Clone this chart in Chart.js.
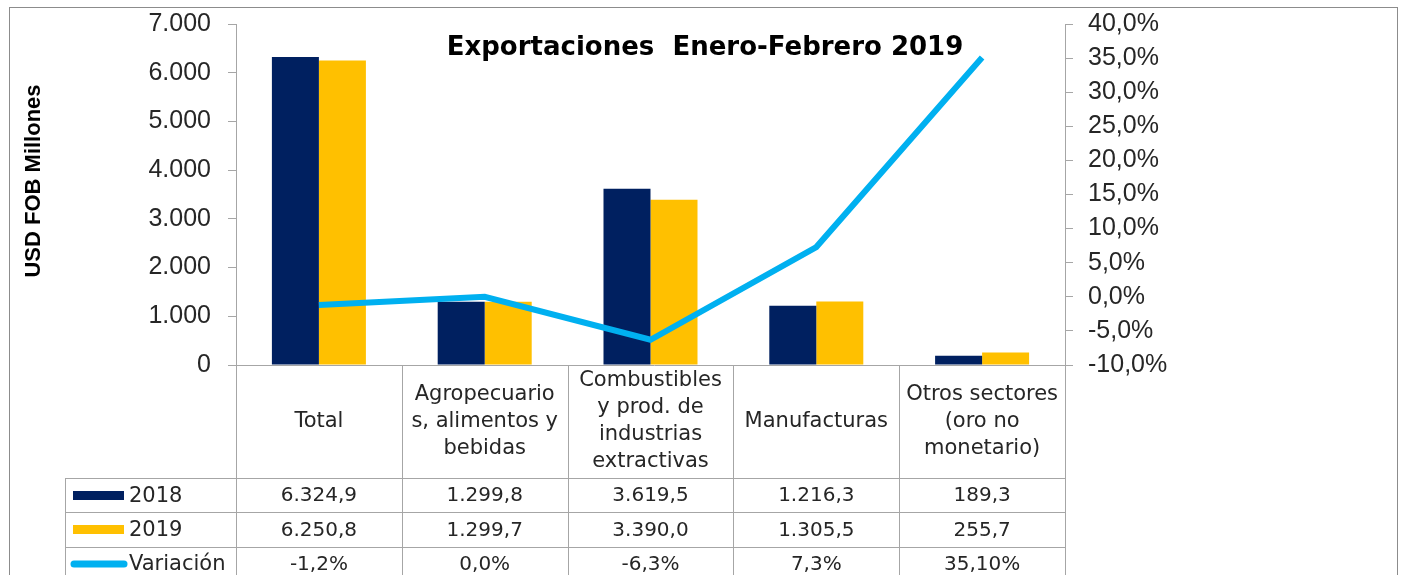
<!DOCTYPE html>
<html>
<head>
<meta charset="utf-8">
<script src="https://cdn.jsdelivr.net/npm/chart.js@4"></script>
<style>
  html, body { margin: 0; padding: 0; background: #fff; }
</style>
</head>
<body>
<canvas id="chart" width="1404" height="575"></canvas>
<script>
/* Data. */
const categories = [
  ["Total"],
  ["Agropecuario", "s, alimentos y", "bebidas"],
  ["Combustibles", "y prod. de", "industrias", "extractivas"],
  ["Manufacturas"],
  ["Otros sectores", "(oro no", "monetario)"]
]
const exports2018 = [6324.9, 1299.8, 3619.5, 1216.3, 189.3]
const exports2019 = [6250.8, 1299.7, 3390.0, 1305.5, 255.7]
const variation = [-1.2, 0.0, -6.3, 7.3, 35.1]
const variationLabels = ["-1,2%", "0,0%", "-6,3%", "7,3%", "35,10%"]
const seriesNames = ["2018", "2019", "Variación"]
const chartTitle = "Exportaciones  Enero-Febrero 2019"
const axisTitle = "USD FOB Millones"

const navy = "#002060"
const gold = "#FFC000"
const cyan = "#00B0F0"
const gridGrey = "#a6a6a6"
const textColor = "#262626"

/* Number with dot for thousands and comma for decimals. */
const formatNumber = (v, decimals) => {
  const parts = v.toFixed(decimals).split(".")
  parts[0] = parts[0].replace(/\B(?=(\d{3})+(?!\d))/g, ".")
  return parts.join(",")
}

/* Fix axis width and drop the label overflow padding so the plot area is exact. */
const fitAxis = width => scale => {
  scale.width = width
  scale.paddingTop = 0
  scale.paddingBottom = 0
}

/* Plugin that draws the frame, titles and the data table. */
const tablePlugin = {
  id: "tablePlugin",
  afterDraw(chart) {
    const ctx = chart.ctx
    const area = chart.chartArea
    const x = chart.scales.x
    const colWidth = (area.right - area.left) / categories.length
    const headerBottom = 478
    const rowHeight = 34.3
    const tableLeft = 65
    const bottom = 600

    ctx.save()

    /* Outer frame. */
    ctx.strokeStyle = "#8c8c8c"
    ctx.lineWidth = 1
    ctx.strokeRect(9.5, 7.5, 1388, 620)

    /* Title inside plot area. */
    ctx.fillStyle = "#000"
    ctx.font = "bold 26px 'DejaVu Sans'"
    ctx.textAlign = "center"
    ctx.textBaseline = "middle"
    ctx.fillText(chartTitle, 705, 48)

    /* Rotated y axis title. */
    ctx.save()
    ctx.translate(34, 181)
    ctx.rotate(-Math.PI / 2)
    ctx.font = "bold 22px 'Liberation Sans'"
    ctx.fillText(axisTitle, 0, 0)
    ctx.restore()

    /* Table lines. */
    ctx.strokeStyle = gridGrey
    ctx.lineWidth = 1
    ctx.beginPath()
    ctx.moveTo(area.left, Math.round(area.bottom) + 0.5)
    ctx.lineTo(area.right + 8, Math.round(area.bottom) + 0.5)
    for (let i = 0; i <= categories.length; i++) {
      const cx = Math.round(area.left + i * colWidth) + 0.5
      ctx.moveTo(cx, area.bottom)
      ctx.lineTo(cx, bottom)
    }
    ctx.moveTo(tableLeft + 0.5, headerBottom)
    ctx.lineTo(tableLeft + 0.5, bottom)
    for (let r = 0; r < 3; r++) {
      const ry = Math.round(headerBottom + r * rowHeight) + 0.5
      ctx.moveTo(tableLeft, ry)
      ctx.lineTo(area.right, ry)
    }
    ctx.stroke()

    /* Category header cells. */
    ctx.fillStyle = textColor
    ctx.font = "21px 'DejaVu Sans'"
    const headerMid = (area.bottom + headerBottom) / 2
    const lineHeight = 27
    categories.forEach((lines, i) => {
      const cx = x.getPixelForValue(i)
      const startY = headerMid - (lines.length - 1) * lineHeight / 2
      lines.forEach((line, j) => {
        ctx.fillText(line, cx, startY + j * lineHeight)
      })
    })

    /* Data rows. */
    const rows = [
      exports2018.map(v => formatNumber(v, 1)),
      exports2019.map(v => formatNumber(v, 1)),
      variationLabels
    ]
    ctx.font = "20px 'DejaVu Sans'"
    rows.forEach((row, r) => {
      const cy = headerBottom + r * rowHeight + rowHeight / 2 + 1
      row.forEach((text, i) => {
        ctx.fillText(text, x.getPixelForValue(i), cy)
      })
    })

    /* Legend keys and row names. */
    ctx.fillStyle = navy
    ctx.fillRect(73, 491, 51, 9)
    ctx.fillStyle = gold
    ctx.fillRect(73, 525, 51, 9)
    ctx.strokeStyle = cyan
    ctx.lineWidth = 7
    ctx.lineCap = "round"
    ctx.beginPath()
    ctx.moveTo(74, 564)
    ctx.lineTo(124, 564)
    ctx.stroke()

    ctx.fillStyle = textColor
    ctx.font = "21px 'DejaVu Sans'"
    ctx.textAlign = "left"
    seriesNames.forEach((name, r) => {
      ctx.fillText(name, 129, headerBottom + r * rowHeight + rowHeight / 2 + 1)
    })

    ctx.restore()
  }
}

const ctx = document.getElementById("chart").getContext("2d")
const chart = new Chart(ctx, {
  type: "bar",
  data: {
    labels: categories,
    datasets: [{
      type: "line",
      label: seriesNames[2],
      data: variation,
      yAxisID: "y2",
      borderColor: cyan,
      borderWidth: 6,
      pointRadius: 0,
      tension: 0,
      order: 0
    }, {
      label: seriesNames[0],
      data: exports2018,
      backgroundColor: navy,
      borderWidth: 0,
      categoryPercentage: 0.567,
      barPercentage: 1.0,
      order: 1
    }, {
      label: seriesNames[1],
      data: exports2019,
      backgroundColor: gold,
      borderWidth: 0,
      categoryPercentage: 0.567,
      barPercentage: 1.0,
      order: 1
    }]
  },
  options: {
    responsive: false,
    animation: false,
    layout: {
      padding: { top: 24, bottom: 210, left: 0, right: 0 }
    },
    scales: {
      x: {
        display: false
      },
      y: {
        position: "left",
        min: 0,
        max: 7000,
        afterFit: fitAxis(236),
        ticks: {
          stepSize: 1000,
          padding: 17,
          color: textColor,
          font: { family: "'Liberation Sans'", size: 25 },
          callback: v => formatNumber(v, 0)
        },
        grid: {
          drawOnChartArea: false,
          tickLength: 8,
          color: gridGrey
        },
        border: { color: gridGrey }
      },
      y2: {
        position: "right",
        min: -10,
        max: 40,
        afterFit: fitAxis(339),
        ticks: {
          stepSize: 5,
          padding: 15,
          color: textColor,
          font: { family: "'Liberation Sans'", size: 25 },
          callback: v => formatNumber(v, 1) + "%"
        },
        grid: {
          drawOnChartArea: false,
          tickLength: 8,
          color: gridGrey
        },
        border: { color: gridGrey }
      }
    },
    plugins: {
      legend: { display: false },
      tooltip: { enabled: false },
      title: { display: false }
    }
  },
  plugins: [tablePlugin]
})
</script>
</body>
</html>
